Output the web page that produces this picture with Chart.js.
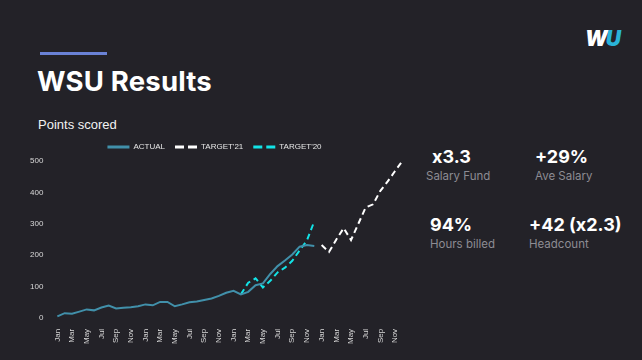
<!DOCTYPE html>
<html>
<head>
<meta charset="utf-8">
<script src="https://cdn.jsdelivr.net/npm/chart.js@4.4.1/dist/chart.umd.min.js"></script>
<style>
  html, body { margin: 0; padding: 0; }
  body { width: 642px; height: 360px; background: #232228; position: relative; overflow: hidden; font-family: "Inter", "Open Sans", sans-serif; color: #fff; }
  .bar { position: absolute; left: 40px; top: 52px; width: 67px; height: 3px; background: #6a82d6; }
  h1 { position: absolute; left: 37px; top: 64px; margin: 0; font-size: 27.5px; font-weight: 700; letter-spacing: 0.2px; }
  .sub { position: absolute; left: 38px; top: 117px; font-family: "Liberation Sans", Arial, sans-serif; font-size: 13px; color: #f2f2f2; }
  .logo { position: absolute; left: 585px; top: 26px; font-size: 21px; font-weight: 900; font-style: italic; letter-spacing: -2px; }
  .logo .u { color: #2ab4d8; }
  .stat { position: absolute; }
  .stat .big { font-size: 18px; font-weight: 700; color: #fff; }
  .stat .lbl { font-size: 11.5px; color: #8d8c93; margin-top: 2px; }
  #chart { position: absolute; left: 0; top: 133px; }
</style>
</head>
<body>
<div class="bar"></div>
<h1>WSU Results</h1>
<div class="sub">Points scored</div>
<div class="logo">W<span class="u">U</span></div>

<div class="stat" style="left:426px; top:146px;"><div class="big" style="margin-left:6px">x3.3</div><div class="lbl">Salary Fund</div></div>
<div class="stat" style="left:535px; top:146px;"><div class="big">+29%</div><div class="lbl">Ave Salary</div></div>
<div class="stat" style="left:430px; top:214px;"><div class="big">94%</div><div class="lbl">Hours billed</div></div>
<div class="stat" style="left:529px; top:214px;"><div class="big">+42 (x2.3)</div><div class="lbl">Headcount</div></div>

<canvas id="chart" width="415" height="214"></canvas>

<script>
const months = ['Jan','Feb','Mar','Apr','May','Jun','Jul','Aug','Sep','Oct','Nov','Dec'];
const labels = [].concat(months, months, months, months); // 2018 - 2021

const actual = [
  5, 15, 13, 20, 27, 24, 33, 39, 30, 32, 34, 37,
  43, 40, 51, 51, 37, 43, 50, 52, 57, 62, 70, 80,
  86, 75, 83, 104, 110, 140, 165, 183, 202, 227, 232, 229
];
const target20 = [
  null, null, null, null, null, null, null, null, null, null, null, null,
  null, null, null, null, null, null, null, null, null, null, null, null,
  null, 75, 112, 126, 97, 118, 145, 160, 182, 215, 247, 308
];
const target21 = [
  null, null, null, null, null, null, null, null, null, null, null, null,
  null, null, null, null, null, null, null, null, null, null, null, null,
  null, null, null, null, null, null, null, null, null, null, null, null,
  232, 210, 250, 286, 248, 300, 352, 362, 405, 435, 468, 500
];

const padArr = (arr) => arr.concat(new Array(labels.length - arr.length).fill(null));

const tickFont = { family: 'Liberation Sans, Arial, sans-serif', size: 8 };

const ctx = document.getElementById('chart').getContext('2d');
const chart = new Chart(ctx, {
    type: 'line',
    data: {
        labels: labels,
        datasets: [
            {
                label: 'ACTUAL',
                data: padArr(actual),
                borderColor: '#4190aa',
                backgroundColor: '#4190aa',
                borderWidth: 2,
                pointRadius: 0,
                tension: 0
            },
            {
                label: "TARGET'21",
                data: padArr(target21),
                borderColor: '#ffffff',
                backgroundColor: '#ffffff',
                borderWidth: 2,
                borderDash: [6, 4],
                pointRadius: 0,
                tension: 0
            },
            {
                label: "TARGET'20",
                data: padArr(target20),
                borderColor: '#12e3e6',
                backgroundColor: '#12e3e6',
                borderWidth: 2,
                borderDash: [6, 4],
                pointRadius: 0,
                tension: 0
            }
        ]
    },
    options: {
        responsive: false,
        animation: false,
        layout: { padding: { left: 24, right: 10, top: 0, bottom: 0 } },
        plugins: {
            legend: {
                position: 'top',
                labels: {
                    color: '#e6e6e6',
                    font: tickFont,
                    usePointStyle: true,
                    pointStyle: 'line',
                    pointStyleWidth: 22,
                    padding: 10,
                    generateLabels: function (c) {
                        const items = Chart.defaults.plugins.legend.labels.generateLabels(c);
                        items.forEach(function (it) {
                            const ds = c.data.datasets[it.datasetIndex];
                            it.lineWidth = 3;
                            it.strokeStyle = ds.borderColor;
                            it.lineDash = ds.borderDash ? [9, 4] : [];
                        });
                        return items;
                    }
                }
            },
            tooltip: { enabled: false }
        },
        scales: {
            x: {
                grid: { display: false },
                border: { display: false },
                ticks: {
                    color: '#d8d8d8',
                    font: tickFont,
                    autoSkip: false,
                    maxRotation: 90,
                    minRotation: 90,
                    callback: function (value, index) {
                        return index % 2 === 0 ? labels[index] : '';
                    }
                }
            },
            y: {
                min: 0,
                max: 500,
                grid: { display: false },
                border: { display: false },
                ticks: {
                    color: '#d8d8d8',
                    font: tickFont,
                    stepSize: 100,
                    padding: 6
                }
            }
        }
    }
});
</script>
</body>
</html>
